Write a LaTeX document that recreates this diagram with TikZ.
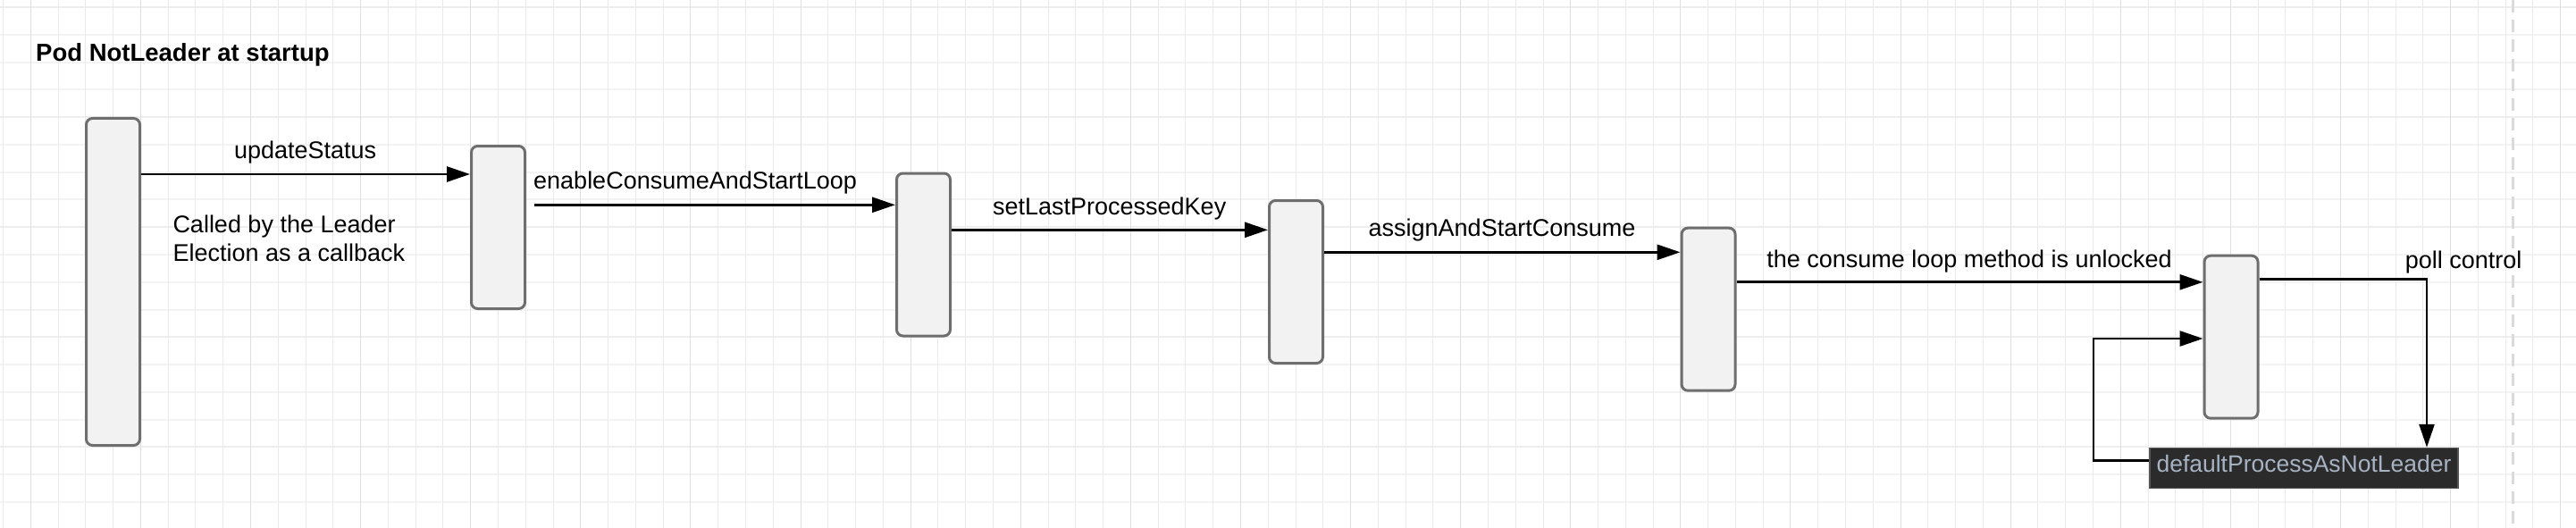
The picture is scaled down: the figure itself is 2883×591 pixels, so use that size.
\documentclass[tikz,border=0pt]{standalone}
\usepackage{fontspec}
\setmainfont{Liberation Sans}
\usetikzlibrary{arrows.meta}
\definecolor{boxdraw}{HTML}{6E6E6E}
\definecolor{boxfill}{HTML}{F2F2F2}
\definecolor{gridv}{HTML}{EAEAEA}
\definecolor{gridvmaj}{HTML}{DFDFDF}
\definecolor{gridh}{HTML}{F3F3F3}
\definecolor{gridhmaj}{HTML}{EEEEEE}
\definecolor{darkbox}{HTML}{2B2B2B}
\definecolor{darkboxline}{HTML}{555555}
\definecolor{darktext}{HTML}{A7B3C3}
\definecolor{dashcol}{HTML}{DADADA}
\begin{document}
\begin{tikzpicture}[x=1pt,y=-1pt,
  actbox/.style={draw=boxdraw, fill=boxfill, line width=3pt, rounded corners=7pt, minimum width=60pt, inner sep=0pt},
  arr/.style={line width=2.7pt, -{Triangle[length=26pt,width=17pt]}},
  lbl/.style={font=\fontsize{27}{32.7}\selectfont, inner sep=0pt, text=black},
]
\useasboundingbox (0,0) rectangle (2883,591);
\fill[white] (0,0) rectangle (2883,591);
\foreach \k in {0,...,18}{
  \pgfmathsetmacro{\yy}{8+30.776*\k}
  \pgfmathtruncatemacro{\mj}{mod(\k,4)}
  \ifnum\mj=0 \draw[gridhmaj,line width=2pt] (0,\yy) -- (2883,\yy);
  \else \draw[gridh,line width=2pt] (0,\yy) -- (2883,\yy); \fi
}
\foreach \k in {-1,...,92}{
  \pgfmathsetmacro{\xx}{34.3+30.776*\k}
  \pgfmathtruncatemacro{\mj}{mod(\k+4,4)}
  \ifnum\mj=0 \draw[gridvmaj,line width=1pt] (\xx,0) -- (\xx,591);
  \else \draw[gridv,line width=1pt] (\xx,0) -- (\xx,591); \fi
}
\draw[dashcol, line width=3pt, dash pattern=on 14pt off 8pt] (2812,0) -- (2812,591);

\node[actbox, minimum height=366pt] (B1) at (126.5,315.5) {};
\node[actbox, minimum height=182pt] (B2) at (557.5,254.5) {};
\node[actbox, minimum height=182pt] (B3) at (1033.5,285) {};
\node[actbox, minimum height=182pt] (B4) at (1450.5,315.5) {};
\node[actbox, minimum height=182pt] (B5) at (1912,346.2) {};
\node[actbox, minimum height=182pt] (B6) at (2497,377.2) {};
\node[draw=darkboxline, fill=darkbox, line width=1.5pt, minimum width=345pt, minimum height=45pt, inner sep=0pt, text=darktext, font=\fontsize{26.5}{30}\selectfont, text height=19pt, text depth=10.4pt] (D) at (2578.5,524) {defaultProcessAsNotLeader};

\node[lbl, font=\fontsize{27.5}{33}\selectfont\bfseries, anchor=base west] (T) at (40,68.3) {Pod NotLeader at startup};

\draw[arr] (B1.east |- 0,195) -- (B2.west |- 0,195);
\coordinate (S2) at (598.3,229.3);
\draw[arr] (S2) -- (B3.west |- S2);
\draw[arr] (B3.east |- 0,257.3) -- (B4.west |- 0,257.3);
\draw[arr] (B4.east |- 0,282.3) -- (B5.west |- 0,282.3);
\draw[arr] (B5.east |- 0,315.8) -- (B6.west |- 0,315.8);
\draw[arr] (D.west |- 0,515.7) -| (2343,379) -- (B6.west |- 0,379);
\draw[arr] (B6.east |- 0,312.7) -| (2716,0 |- D.north);

\node[lbl, anchor=base] (L1) at (341.6,177.3) {updateStatus};
\node[lbl, anchor=base west, align=left] (N1) at (193.3,292.7) {Called by the Leader\\Election as a callback};
\node[lbl, anchor=base west] (L2) at (597,211.7) {enableConsumeAndStartLoop};
\node[lbl, anchor=base] (L3) at (1241.7,240.7) {setLastProcessedKey};
\node[lbl, anchor=base] (L4) at (1681,264) {assignAndStartConsume};
\node[lbl, anchor=base] (L5) at (2204,299.3) {the consume loop method is unlocked};
\node[lbl, anchor=base west] (L6) at (2691.7,300.7) {poll control};
\end{tikzpicture}
\end{document}
